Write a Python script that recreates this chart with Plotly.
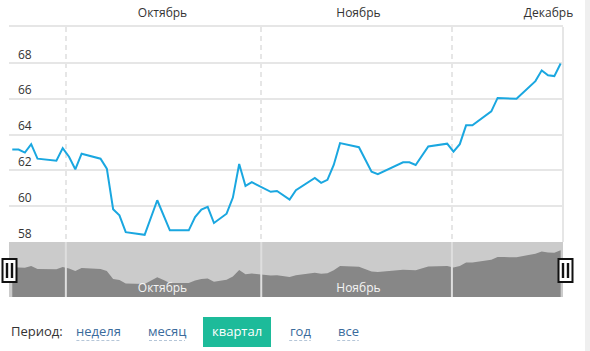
import plotly.graph_objects as go

# ---------------- data ----------------
dates = [
    "2013-09-23", "2013-09-24", "2013-09-25", "2013-09-26", "2013-09-27",
    "2013-09-30", "2013-10-01", "2013-10-02", "2013-10-03", "2013-10-04",
    "2013-10-07", "2013-10-08", "2013-10-09", "2013-10-10", "2013-10-11",
    "2013-10-14", "2013-10-16", "2013-10-17", "2013-10-18",
    "2013-10-21", "2013-10-22", "2013-10-23", "2013-10-24", "2013-10-25",
    "2013-10-27", "2013-10-28", "2013-10-29", "2013-10-30", "2013-10-31",
    "2013-11-03", "2013-11-04", "2013-11-06", "2013-11-07",
    "2013-11-10", "2013-11-11", "2013-11-12", "2013-11-13", "2013-11-14",
    "2013-11-17", "2013-11-19", "2013-11-20",
    "2013-11-24", "2013-11-25", "2013-11-26", "2013-11-28",
    "2013-12-01", "2013-12-02", "2013-12-03", "2013-12-04", "2013-12-05",
    "2013-12-08", "2013-12-09", "2013-12-10", "2013-12-12",
    "2013-12-15", "2013-12-16", "2013-12-17", "2013-12-18", "2013-12-19",
]
values = [
    63.16, 63.16, 62.99, 63.46, 62.65,
    62.54, 63.24, 62.76, 62.06, 62.93,
    62.65, 62.09, 59.83, 59.49, 58.55,
    58.40, 60.33, 59.49, 58.65,
    58.65, 59.39, 59.81, 59.96, 59.06,
    59.58, 60.48, 62.35, 61.13, 61.34,
    60.80, 60.85, 60.37, 60.89,
    61.58, 61.30, 61.47, 62.30, 63.52,
    63.29, 61.92, 61.79,
    62.45, 62.45, 62.30, 63.33,
    63.49, 63.04, 63.46, 64.51, 64.51,
    65.29, 66.04, 66.01, 65.99,
    66.98, 67.58, 67.31, 67.26, 67.96,
]
month_starts = ["2013-10-01 12:00", "2013-11-01 12:00", "2013-12-01 18:00"]
month_label_pos = ["2013-10-16 20:00", "2013-11-16 22:00", "2013-12-17 02:00"]
month_labels = ["Октябрь", "Ноябрь", "Декабрь"]
nav_month_labels = ["Октябрь", "Ноябрь"]
y_ticks = [58, 60, 62, 64, 66, 68]
x_range = ["2013-09-22 11:30", "2013-12-19 09:00"]
y_range = [58, 70]
nav_y_range = [54.7, 70.3]
periods = ["неделя", "месяц", "квартал", "год", "все"]
period_active = "квартал"
period_centers_px = [98, 167, 237, 300, 348]

# ---------------- layout geometry ----------------
W, H = 590, 351
ML, MR, MT, MB = 9, 27, 27, 54
PW, PH = W - ML - MR, H - MT - MB
NAV_TOP_PX = 242
nav_frac = (H - MB - NAV_TOP_PX) / PH


def px(x):
    return (x - ML) / PW


def py(y):
    return (H - MB - y) / PH


FONT = "Open Sans, Roboto, sans-serif"
LINE_COLOR = "#1aa7e0"
GRID = "#e6e6e6"

fig = go.Figure()

fig.add_trace(go.Scatter(
    x=dates, y=values, mode="lines",
    line=dict(color=LINE_COLOR, width=2),
    xaxis="x", yaxis="y", hoverinfo="skip", showlegend=False,
))
fig.add_trace(go.Scatter(
    x=dates, y=values, mode="lines", fill="tozeroy",
    fillcolor="#878787", line=dict(color="#878787", width=0),
    xaxis="x2", yaxis="y2", hoverinfo="skip", showlegend=False,
))

shapes = []
# navigator background
shapes.append(dict(type="rect", xref="x2 domain", yref="y2 domain",
                   x0=0, x1=1, y0=0, y1=1, fillcolor="#cbcbcb",
                   line=dict(width=0), layer="below"))
# navigator month separators
for m in month_starts:
    shapes.append(dict(type="line", xref="x2", yref="y2 domain",
                       x0=m, x1=m, y0=0, y1=1,
                       line=dict(color="#dedede", width=2), layer="above"))
# right border of main plot
shapes.append(dict(type="line", xref="x domain", yref="y domain",
                   x0=1, x1=1, y0=0, y1=1,
                   line=dict(color=GRID, width=2), layer="below"))
# page edge strip
shapes.append(dict(type="rect", xref="paper", yref="paper",
                   x0=px(585), x1=px(590), y0=py(351), y1=py(0),
                   fillcolor="#efefef", line=dict(width=0), layer="below"))


def handle(xc):
    out = [dict(type="rect", xref="paper", yref="paper",
                x0=px(xc - 7), x1=px(xc + 7), y0=py(282), y1=py(259),
                fillcolor="white", line=dict(color="#111", width=2),
                layer="above")]
    for dx in (-2.5, 2.5):
        out.append(dict(type="rect", xref="paper", yref="paper",
                        x0=px(xc + dx - 1.2), x1=px(xc + dx + 1.2),
                        y0=py(278), y1=py(263), fillcolor="#111",
                        line=dict(width=0), layer="above"))
    return out


shapes += handle(9.5)
shapes += handle(565.5)

# active period button
shapes.append(dict(type="rect", xref="paper", yref="paper",
                   x0=px(203), x1=px(271), y0=py(347), y1=py(317),
                   fillcolor="#1dbb9a", line=dict(width=0), layer="above"))

annotations = [dict(text="Период:", xref="paper", yref="paper",
                    x=px(9), y=py(331), xanchor="left", yanchor="middle",
                    showarrow=False, font=dict(family=FONT, size=13, color="#333"))]
for lab, cx in zip(periods, period_centers_px):
    active = lab == period_active
    annotations.append(dict(text=lab, xref="paper", yref="paper",
                            x=px(cx), y=py(331), xanchor="center", yanchor="middle",
                            showarrow=False,
                            font=dict(family=FONT, size=13,
                                      color="white" if active else "#3a6b9c")))
    if not active:
        half = len(lab) * 3.6
        shapes.append(dict(type="line", xref="paper", yref="paper",
                           x0=px(cx - half), x1=px(cx + half),
                           y0=py(340.5), y1=py(340.5),
                           line=dict(color="#b5c6d8", width=1, dash="3px,2px")))

fig.update_layout(
    width=W, height=H,
    margin=dict(l=ML, r=MR, t=MT, b=MB, autoexpand=False),
    paper_bgcolor="white", plot_bgcolor="rgba(0,0,0,0)",
    font=dict(family=FONT, size=12, color="#333"),
    shapes=shapes, annotations=annotations,
    xaxis=dict(
        type="date", range=x_range, side="top", anchor="y", automargin=False,
        tickmode="array", tickvals=month_label_pos, ticktext=month_labels,
        showgrid=False, ticks="", showline=True, linecolor=GRID, linewidth=2,
        tickfont=dict(family=FONT, size=12, color="#333"),
        ticklabelstandoff=3,
        minor=dict(tickmode="array", tickvals=month_starts, showgrid=True,
                   gridcolor=GRID, gridwidth=2, griddash="5px,4px", ticks=""),
        zeroline=False, fixedrange=True,
    ),
    yaxis=dict(
        domain=[nav_frac, 1], range=y_range, tickmode="array", tickvals=y_ticks,
        ticklabelposition="inside top", showgrid=True, gridcolor=GRID, gridwidth=2,
        ticks="", showline=False, zeroline=False, ticklabelstandoff=6,
        automargin=False,
        tickfont=dict(family=FONT, size=12, color="#333"),
    ),
    xaxis2=dict(
        type="date", range=x_range, anchor="y2", automargin=False,
        tickmode="array", tickvals=month_label_pos[:2], ticktext=nav_month_labels,
        ticklabelposition="inside", showgrid=False, ticks="", showline=False,
        zeroline=False, tickfont=dict(family=FONT, size=12, color="#f4f4f4"),
    ),
    yaxis2=dict(domain=[0, nav_frac], range=nav_y_range, visible=False,
                showgrid=False, zeroline=False),
)

fig.write_html("out.html")
